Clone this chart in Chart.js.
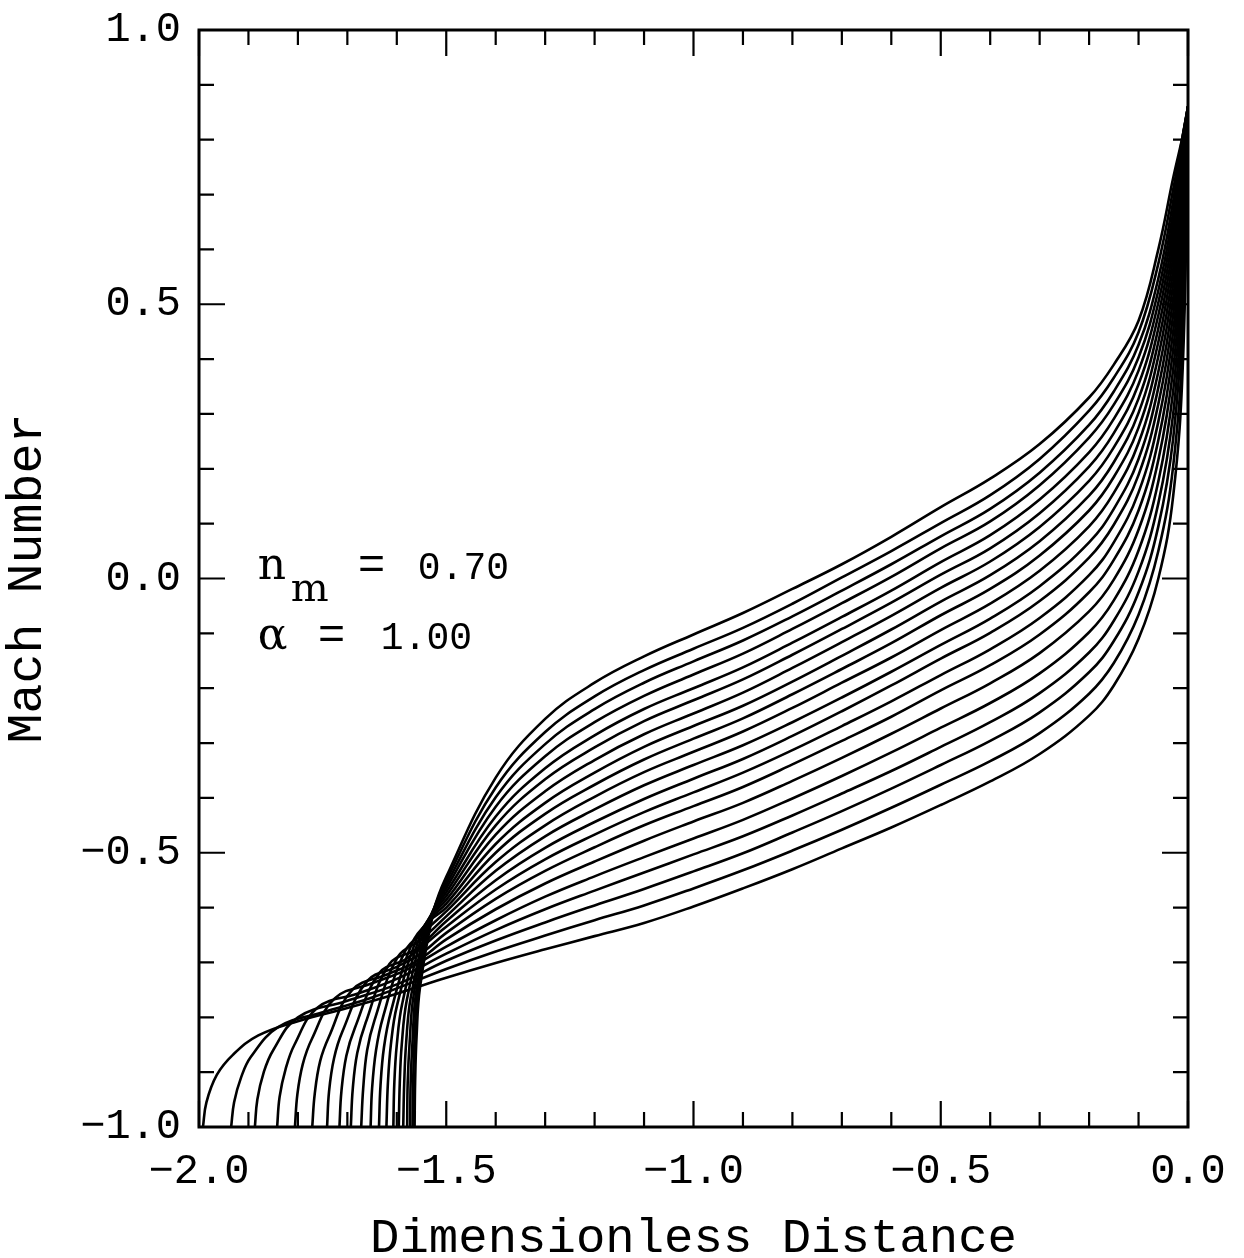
<!DOCTYPE html>
<html>
<head>
<meta charset="utf-8">
<title>Mach Number vs Dimensionless Distance</title>
<script src="https://cdn.jsdelivr.net/npm/chart.js@4.4.1/dist/chart.umd.min.js"></script>
<style>
  html, body { margin: 0; padding: 0; background: #fff; }
</style>
</head>
<body>
<canvas id="chart" width="1244" height="1258"></canvas>
<script>
// tick values (every 0.1, labels only on multiples of 0.5)
const X_TICKS = [-2.0, -1.9, -1.8, -1.7, -1.6, -1.5, -1.4, -1.3, -1.2, -1.1, -1.0,
                 -0.9, -0.8, -0.7, -0.6, -0.5, -0.4, -0.3, -0.2, -0.1, 0.0];
const Y_TICKS = [-1.0, -0.9, -0.8, -0.7, -0.6, -0.5, -0.4, -0.3, -0.2, -0.1, 0.0,
                 0.1, 0.2, 0.3, 0.4, 0.5, 0.6, 0.7, 0.8, 0.9, 1.0];

// left part of each curve (x, y) from its start on y = -1 up to the focus region
// curve 0 starts furthest left and ends lowest in the middle
const LEFT_PATHS = [
  [[-1.992, -1], [-1.985, -0.955], [-1.964, -0.905], [-1.931, -0.868], [-1.88, -0.833], [-1.8, -0.807], [-1.7, -0.783], [-1.6, -0.757]],
  [[-1.935, -1], [-1.929, -0.955], [-1.915, -0.91], [-1.895, -0.872], [-1.84, -0.818], [-1.75, -0.791], [-1.65, -0.764]],
  [[-1.887, -1], [-1.882, -0.95], [-1.869, -0.9], [-1.85, -0.86], [-1.8, -0.8], [-1.7, -0.77], [-1.6, -0.74]],
  [[-1.842, -1], [-1.837, -0.945], [-1.825, -0.895], [-1.807, -0.85], [-1.76, -0.782], [-1.68, -0.757], [-1.6, -0.73]],
  [[-1.806, -1], [-1.801, -0.94], [-1.79, -0.885], [-1.772, -0.84], [-1.725, -0.765], [-1.65, -0.738], [-1.58, -0.713]],
  [[-1.771, -1], [-1.766, -0.94], [-1.755, -0.88], [-1.737, -0.835], [-1.69, -0.75], [-1.62, -0.722], [-1.56, -0.698]],
  [[-1.741, -1], [-1.737, -0.935], [-1.727, -0.875], [-1.71, -0.826], [-1.66, -0.734], [-1.6, -0.708], [-1.55, -0.683]],
  [[-1.716, -1], [-1.712, -0.935], [-1.702, -0.87], [-1.685, -0.82], [-1.635, -0.719], [-1.58, -0.693]],
  [[-1.693, -1], [-1.689, -0.93], [-1.68, -0.865], [-1.663, -0.81], [-1.615, -0.703], [-1.56, -0.675]],
  [[-1.672, -1], [-1.668, -0.93], [-1.66, -0.86], [-1.645, -0.805], [-1.598, -0.69], [-1.55, -0.658]],
  [[-1.653, -1], [-1.65, -0.93], [-1.642, -0.86], [-1.628, -0.8], [-1.583, -0.679], [-1.54, -0.64]],
  [[-1.636, -1], [-1.633, -0.925], [-1.626, -0.855], [-1.612, -0.79], [-1.57, -0.667], [-1.535, -0.625]],
  [[-1.621, -1], [-1.618, -0.92], [-1.612, -0.85], [-1.6, -0.78], [-1.56, -0.657], [-1.53, -0.618]],
  [[-1.607, -1], [-1.605, -0.92], [-1.6, -0.85], [-1.589, -0.775], [-1.552, -0.648], [-1.527, -0.612]],
  [[-1.596, -1], [-1.594, -0.92], [-1.59, -0.85], [-1.58, -0.77], [-1.545, -0.638], [-1.525, -0.607]],
  [[-1.587, -1], [-1.585, -0.92], [-1.581, -0.845], [-1.572, -0.765], [-1.539, -0.63], [-1.524, -0.603]],
  [[-1.579, -1], [-1.578, -0.92], [-1.574, -0.845], [-1.566, -0.76], [-1.534, -0.622]],
  [[-1.573, -1], [-1.572, -0.92], [-1.568, -0.84], [-1.561, -0.755], [-1.53, -0.615]],
  [[-1.568, -1], [-1.567, -0.92], [-1.564, -0.84], [-1.557, -0.75], [-1.527, -0.61]],
  [[-1.564, -1], [-1.563, -0.92], [-1.56, -0.835], [-1.553, -0.745], [-1.525, -0.605]]
];

// shared x positions for the right part, and curve values at each (curve 0 .. 19)
const X_MID = [-1.5, -1.4, -1.3, -1.2, -1.1, -1.0, -0.9, -0.8, -0.7, -0.6, -0.5,
               -0.4, -0.3, -0.2, -0.15, -0.1, -0.06, -0.03, -0.01, 0.0];
const yAt150 = [-0.728, -0.712, -0.697, -0.684, -0.671, -0.658, -0.646, -0.635, -0.625, -0.616, -0.607, -0.600, -0.593, -0.586, -0.579, -0.572, -0.565, -0.558, -0.551, -0.544];
const yAt140 = [-0.701, -0.680, -0.660, -0.641, -0.623, -0.603, -0.584, -0.567, -0.550, -0.533, -0.517, -0.500, -0.484, -0.467, -0.450, -0.434, -0.416, -0.399, -0.381, -0.363];
const yAt130 = [-0.676, -0.651, -0.627, -0.603, -0.580, -0.556, -0.533, -0.512, -0.491, -0.470, -0.450, -0.429, -0.409, -0.388, -0.366, -0.346, -0.324, -0.302, -0.280, -0.256];
const yAt120 = [-0.652, -0.623, -0.596, -0.569, -0.543, -0.516, -0.490, -0.467, -0.444, -0.421, -0.398, -0.376, -0.354, -0.331, -0.308, -0.286, -0.262, -0.238, -0.215, -0.190];
const yAt110 = [-0.628, -0.596, -0.566, -0.536, -0.508, -0.478, -0.45, -0.426, -0.402, -0.377, -0.353, -0.33, -0.307, -0.284, -0.26, -0.238, -0.214, -0.19, -0.167, -0.142];
const yAt100 = [-0.598, -0.565, -0.534, -0.503, -0.474, -0.443, -0.415, -0.39, -0.365, -0.34, -0.316, -0.292, -0.269, -0.246, -0.222, -0.2, -0.175, -0.151, -0.128, -0.102];
const yAt090 = [-0.565, -0.532, -0.501, -0.47, -0.44, -0.409, -0.38, -0.354, -0.329, -0.304, -0.279, -0.255, -0.232, -0.208, -0.184, -0.162, -0.137, -0.113, -0.09, -0.063];
const yAt080 = [-0.53, -0.496, -0.463, -0.432, -0.401, -0.369, -0.339, -0.313, -0.287, -0.262, -0.236, -0.211, -0.188, -0.163, -0.139, -0.117, -0.092, -0.069, -0.046, -0.019];
const yAt070 = [-0.492, -0.458, -0.424, -0.392, -0.36, -0.327, -0.296, -0.269, -0.242, -0.217, -0.19, -0.165, -0.141, -0.116, -0.092, -0.07, -0.045, -0.022, 0.002, 0.026];
const yAt060 = [-0.454, -0.418, -0.383, -0.351, -0.317, -0.283, -0.252, -0.224, -0.195, -0.17, -0.144, -0.118, -0.093, -0.068, -0.044, -0.022, 0.003, 0.026, 0.05, 0.076];
const yAt050 = [-0.413, -0.376, -0.34, -0.307, -0.272, -0.237, -0.204, -0.176, -0.146, -0.121, -0.094, -0.067, -0.042, -0.017, 0.007, 0.03, 0.055, 0.077, 0.101, 0.13];
const yAt040 = [-0.37, -0.333, -0.296, -0.262, -0.227, -0.191, -0.158, -0.129, -0.099, -0.073, -0.046, -0.019, 0.006, 0.031, 0.055, 0.079, 0.104, 0.127, 0.152, 0.182];
const yAt030 = [-0.32, -0.282, -0.244, -0.209, -0.173, -0.136, -0.102, -0.072, -0.041, -0.014, 0.014, 0.042, 0.068, 0.094, 0.119, 0.144, 0.17, 0.193, 0.218, 0.245];
const yAt020 = [-0.25, -0.21, -0.171, -0.135, -0.098, -0.06, -0.025, 0.006, 0.038, 0.066, 0.095, 0.124, 0.151, 0.178, 0.204, 0.23, 0.257, 0.28, 0.306, 0.33];
const yAt015 = [-0.195, -0.154, -0.114, -0.077, -0.04, -0.002, 0.034, 0.066, 0.098, 0.127, 0.156, 0.185, 0.212, 0.239, 0.265, 0.291, 0.317, 0.341, 0.366, 0.39];
const yAt010 = [-0.11, -0.066, -0.025, 0.013, 0.051, 0.089, 0.124, 0.157, 0.189, 0.218, 0.247, 0.275, 0.302, 0.328, 0.354, 0.379, 0.403, 0.426, 0.449, 0.47];
const yAt006 = [0.0, 0.05, 0.095, 0.137, 0.177, 0.216, 0.252, 0.286, 0.318, 0.348, 0.377, 0.405, 0.431, 0.456, 0.48, 0.503, 0.525, 0.547, 0.574, 0.6];
const yAt003 = [0.15, 0.205, 0.255, 0.3, 0.342, 0.381, 0.417, 0.45, 0.481, 0.51, 0.537, 0.562, 0.586, 0.608, 0.629, 0.649, 0.668, 0.688, 0.709, 0.73];
const yAt001 = [0.4, 0.45, 0.495, 0.535, 0.571, 0.604, 0.634, 0.661, 0.686, 0.708, 0.728, 0.746, 0.762, 0.776, 0.788, 0.798, 0.805, 0.809, 0.811, 0.81];
const yAt000 = [0.86, 0.86, 0.86, 0.86, 0.86, 0.86, 0.86, 0.86, 0.86, 0.86, 0.86, 0.86, 0.86, 0.86, 0.86, 0.86, 0.86, 0.86, 0.86, 0.86];

const Y_MID = [yAt150, yAt140, yAt130, yAt120, yAt110, yAt100, yAt090, yAt080, yAt070, yAt060,
               yAt050, yAt040, yAt030, yAt020, yAt015, yAt010, yAt006, yAt003, yAt001, yAt000];

// text box in the plot (data coords of the first letter)
const NOTE_X = -1.881;
const NOTE_Y = [0.0, -0.128];

const MONO = 'Liberation Mono';
const SERIF = 'DejaVu Serif';
const MAJOR_LEN = 26;
const MINOR_LEN = 15;

function fmtTick(v) {
  const r = Math.round(v * 10) / 10;
  if (Math.abs(r * 2 - Math.round(r * 2)) > 1e-6) return '';
  const s = Math.abs(r).toFixed(1);
  return r < -1e-9 ? '\u2212' + s : s;
}

// build one line per curve
const datasets = LEFT_PATHS.map((left, k) => {
  const pts = left.map(([x, y]) => ({ x, y }));
  X_MID.forEach((x, i) => pts.push({ x, y: Y_MID[i][k] }));
  return {
    data: pts,
    borderColor: '#000',
    borderWidth: 2.6,
    pointRadius: 0,
    fill: false,
    tension: 0.4
  };
});

// frame with inward ticks on all four sides, plus the parameter note
const frameTicks = {
  id: 'frameTicks',
  afterDatasetsDraw(chart) {
    const { ctx, chartArea: a, scales: { x, y } } = chart;
    ctx.save();
    ctx.strokeStyle = '#000';
    ctx.lineWidth = 2.2;
    ctx.beginPath();
    for (const t of x.ticks) {
      const px = x.getPixelForValue(t.value);
      const len = fmtTick(t.value) ? MAJOR_LEN : MINOR_LEN;
      ctx.moveTo(px, a.bottom); ctx.lineTo(px, a.bottom - len);
      ctx.moveTo(px, a.top); ctx.lineTo(px, a.top + len);
    }
    for (const t of y.ticks) {
      const py = y.getPixelForValue(t.value);
      const len = fmtTick(t.value) ? MAJOR_LEN : MINOR_LEN;
      ctx.moveTo(a.left, py); ctx.lineTo(a.left + len, py);
      ctx.moveTo(a.right, py); ctx.lineTo(a.right - len, py);
    }
    ctx.stroke();
    ctx.lineWidth = 3;
    ctx.strokeRect(a.left, a.top, a.right - a.left, a.bottom - a.top);
    ctx.restore();
  },
  afterDraw(chart) {
    const { ctx, scales: { x, y } } = chart;
    const x0 = x.getPixelForValue(NOTE_X);
    const y1 = y.getPixelForValue(NOTE_Y[0]);
    const y2 = y.getPixelForValue(NOTE_Y[1]);
    ctx.save();
    ctx.fillStyle = '#000';
    ctx.textAlign = 'left';
    ctx.textBaseline = 'alphabetic';
    ctx.font = `44px "${SERIF}"`;
    ctx.fillText('n', x0, y1);
    ctx.font = `40px "${SERIF}"`;
    ctx.fillText('m', x0 + 33, y1 + 22);
    ctx.font = `46px "${MONO}"`;
    ctx.fillText('=', x0 + 100, y1);
    ctx.font = `38px "${MONO}"`;
    ctx.fillText('0.70', x0 + 160, y1);
    ctx.font = `44px "${SERIF}"`;
    ctx.fillText('\u03b1', x0, y2);
    ctx.font = `46px "${MONO}"`;
    ctx.fillText('=', x0 + 60, y2);
    ctx.font = `38px "${MONO}"`;
    ctx.fillText('1.00', x0 + 123, y2);
    ctx.restore();
  }
};

const tickFont = { family: MONO, size: 42 };

new Chart(document.getElementById('chart').getContext('2d'), {
  type: 'line',
  data: { datasets },
  options: {
    responsive: false,
    animation: false,
    events: [],
    layout: { padding: { left: 0, right: 56, top: 30, bottom: 0 } },
    plugins: { legend: { display: false }, tooltip: { enabled: false } },
    scales: {
      x: {
        type: 'linear',
        min: -2.0,
        max: 0.0,
        afterBuildTicks: (scale) => { scale.ticks = X_TICKS.map(value => ({ value })); },
        afterFit: (scale) => {
          scale.height = 131;
          scale.paddingLeft = 0;
          scale.paddingRight = 0;
        },
        grid: { display: false, drawTicks: false },
        border: { display: false },
        ticks: {
          autoSkip: false, maxRotation: 0, minRotation: 0,
          padding: 20, color: '#000', font: tickFont,
          callback: (v) => fmtTick(v)
        },
        title: {
          display: true, text: 'Dimensionless Distance', color: '#000',
          font: { family: MONO, size: 49, lineHeight: 1 },
          padding: { top: 0, bottom: -6 }
        }
      },
      y: {
        type: 'linear',
        min: -1.0,
        max: 1.0,
        afterBuildTicks: (scale) => { scale.ticks = Y_TICKS.map(value => ({ value })); },
        afterFit: (scale) => {
          scale.width = 199;
          scale.paddingTop = 0;
          scale.paddingBottom = 0;
        },
        grid: { display: false, drawTicks: false },
        border: { display: false },
        ticks: {
          autoSkip: false, padding: 18, color: '#000', font: tickFont,
          callback: (v) => fmtTick(v)
        },
        title: {
          display: true, text: 'Mach Number', color: '#000',
          font: { family: MONO, size: 50, lineHeight: 1 },
          padding: { top: 3, bottom: 0 }
        }
      }
    }
  },
  plugins: [frameTicks]
});
</script>
</body>
</html>
